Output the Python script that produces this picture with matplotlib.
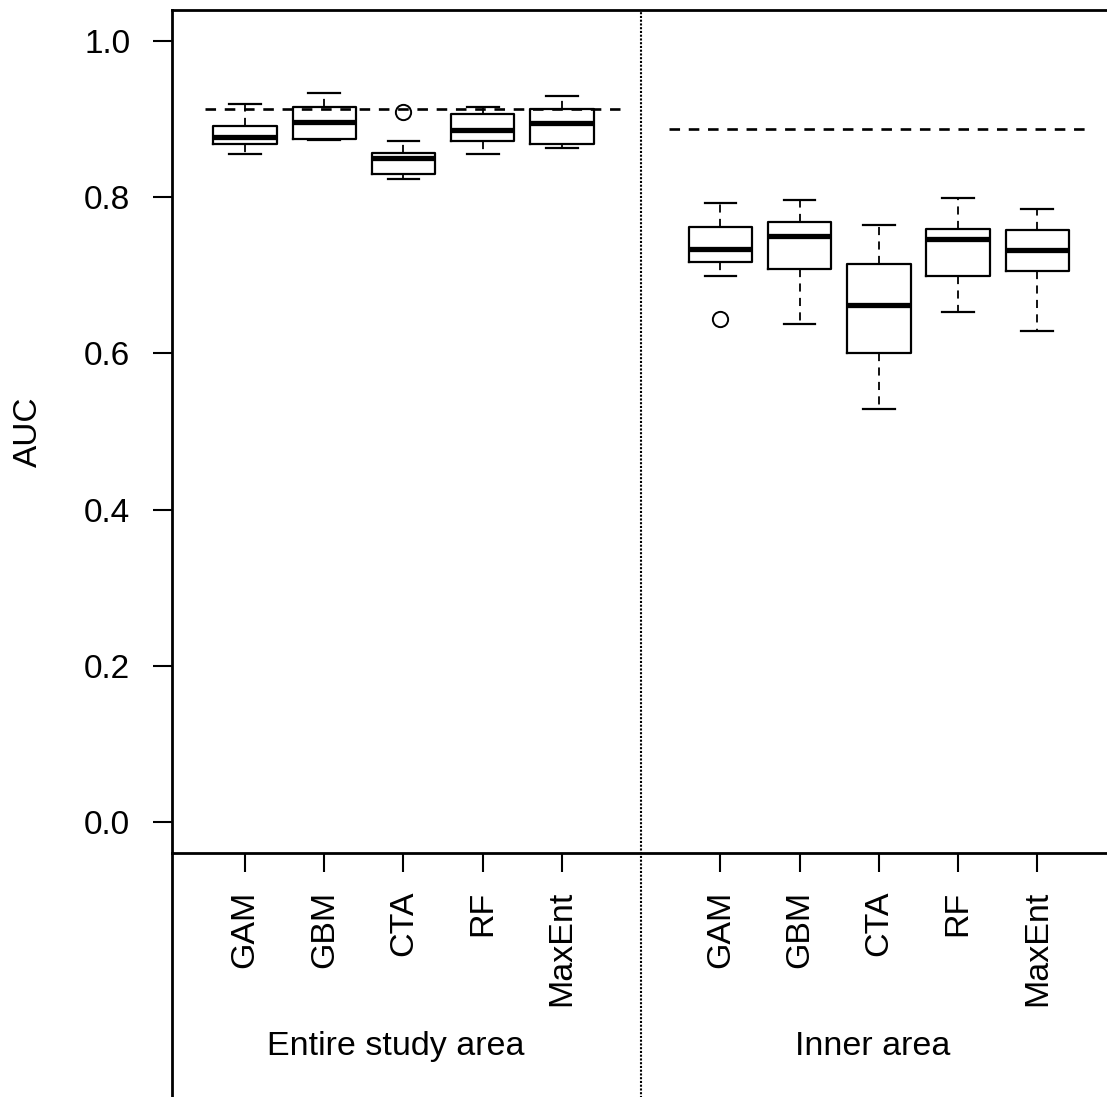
import matplotlib
matplotlib.use("Agg")
import matplotlib.pyplot as plt

plt.rcParams['font.family'] = ['Liberation Sans', 'DejaVu Sans']

models = ["GAM", "GBM", "CTA", "RF", "MaxEnt"]
groups = ["Entire study area", "Inner area"]

# entire study area
entire_whislo = [0.855, 0.874, 0.824, 0.855, 0.863]
entire_q1 = [0.868, 0.875, 0.830, 0.872, 0.868]
entire_med = [0.877, 0.897, 0.851, 0.886, 0.895]
entire_q3 = [0.892, 0.916, 0.857, 0.907, 0.913]
entire_whishi = [0.919, 0.934, 0.872, 0.916, 0.930]
entire_fliers = [[], [], [0.909], [], []]

# inner area
inner_whislo = [0.699, 0.638, 0.529, 0.653, 0.629]
inner_q1 = [0.717, 0.708, 0.601, 0.699, 0.706]
inner_med = [0.734, 0.750, 0.662, 0.747, 0.732]
inner_q3 = [0.762, 0.769, 0.714, 0.760, 0.758]
inner_whishi = [0.793, 0.796, 0.765, 0.799, 0.785]
inner_fliers = [[0.644], [], [], [], []]

# reference AUC (dashed lines)
ref_auc = [0.913, 0.887]

yticks = [0.0, 0.2, 0.4, 0.6, 0.8, 1.0]


def make_stats(lo, q1, med, q3, hi, fl):
    return [dict(whislo=lo[i], q1=q1[i], med=med[i], q3=q3[i], whishi=hi[i],
                 fliers=fl[i]) for i in range(len(lo))]


stats = make_stats(entire_whislo, entire_q1, entire_med, entire_q3, entire_whishi, entire_fliers) \
    + make_stats(inner_whislo, inner_q1, inner_med, inner_q3, inner_whishi, inner_fliers)
positions = [1, 2, 3, 4, 5, 7, 8, 9, 10, 11]

W, H = 1107, 1097
fig = plt.figure(figsize=(W / 100, H / 100), dpi=100)
ax = fig.add_axes([172 / W, 1 - 853 / H, 1 - 172 / W, (853 - 10) / H])

ax.bxp(stats, positions=positions, widths=0.8, manage_ticks=False,
       boxprops=dict(lw=1.6, color='black'),
       whiskerprops=dict(lw=1.3, color='black', linestyle=(0, (4.5, 3.5))),
       capprops=dict(lw=1.6, color='black'),
       medianprops=dict(lw=3.8, color='black', solid_capstyle='butt'),
       flierprops=dict(marker='o', markerfacecolor='none', markeredgecolor='black',
                       markersize=11, markeredgewidth=1.4))

# reference lines
ax.plot([0.5, 5.73], [ref_auc[0]] * 2, color='black', lw=1.9, linestyle=(0, (4, 3.3)))
ax.plot([6.35, 11.6], [ref_auc[1]] * 2, color='black', lw=1.9, linestyle=(0, (4, 3.3)))

ax.set_xlim(0.078, 11.88)
ax.set_ylim(-0.04, 1.04)

ax.set_yticks(yticks)
ax.set_yticklabels([f"{v:.1f}" for v in yticks])
ax.set_xticks(positions)
ax.set_xticklabels(models + models, rotation=90, va='top', ha='center')
ax.tick_params(axis='both', direction='out', length=14, width=1.5, colors='black')
ax.tick_params(axis='y', pad=16, labelsize=24)
ax.tick_params(axis='x', pad=13, labelsize=24.5)

for s in ['top', 'left', 'bottom']:
    ax.spines[s].set_linewidth(2.0)
ax.spines['right'].set_visible(False)

# separator and frame below the axis
ax.plot([6, 6], [-0.3, 1], transform=ax.get_xaxis_transform(), clip_on=False,
        color='black', lw=1.5, linestyle=(0, (1, 0.8)))
ax.plot([0, 0], [-0.3, 0], transform=ax.transAxes, clip_on=False, color='black', lw=2.0)

ax.text(2.9, -0.230, groups[0], transform=ax.get_xaxis_transform(),
        ha='center', va='center', fontsize=24.5)
ax.text(8.92, -0.230, groups[1], transform=ax.get_xaxis_transform(),
        ha='center', va='center', fontsize=24.5)

fig.text(28 / W, 1 - 432 / H, "AUC", rotation=90, ha='center', va='center', fontsize=24)

fig.savefig("out.png", dpi=100)
